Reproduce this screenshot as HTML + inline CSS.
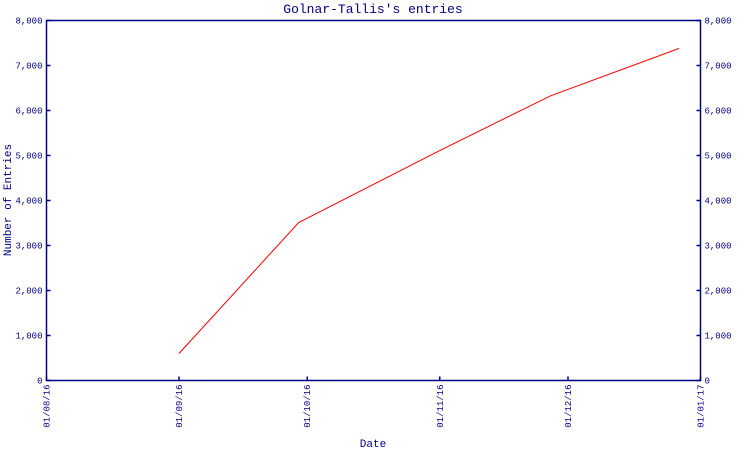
<!DOCTYPE html>
<html><head><meta charset="utf-8"><style>
body{margin:0;background:#fff}
svg text{font-family:"Liberation Mono","DejaVu Sans Mono",monospace;fill:#000080}
</style></head><body>
<svg width="750" height="450" xmlns="http://www.w3.org/2000/svg">
<text x="373" y="13" text-anchor="middle" font-size="13">Golnar-Tallis's entries</text>
<text transform="translate(11,200) rotate(-90)" text-anchor="middle" font-size="11">Number of Entries</text>
<text x="373" y="447" text-anchor="middle" font-size="11">Date</text>
<g id="axes"></g>
<polyline id="line" fill="none" stroke="#ff0000" stroke-width="1"/>
</svg>
<script>
const dates = ["2016-09-01","2016-09-29","2016-11-01","2016-11-27","2016-12-27"];
const values = [600, 3510, 5110, 6330, 7380];
const yTicks = [0,1000,2000,3000,4000,5000,6000,7000,8000];
const xTickLabels = ["01/08/16","01/09/16","01/10/16","01/11/16","01/12/16","01/01/17"];
const xTickDates = ["2016-08-01","2016-09-01","2016-10-01","2016-11-01","2016-12-01","2017-01-01"];

const L=46.5,R=700.5,T=20.5,B=380.5;
const t0=Date.parse("2016-08-01"), t1=Date.parse("2017-01-01");
const xs=d=>L+(Date.parse(d)-t0)/(t1-t0)*(R-L);
const ys=v=>B-v/8000*(B-T);
const NS="http://www.w3.org/2000/svg";
const g=document.getElementById('axes');
function mk(tag,attrs,parent){const e=document.createElementNS(NS,tag);for(const k in attrs)e.setAttribute(k,attrs[k]);(parent||g).appendChild(e);return e;}
const frame=mk('path',{d:`M${L},${B}V${T}H${R}V${B}Z`,fill:'none',stroke:'#000080','stroke-width':1.5});


const fmt=v=>v.toLocaleString('en-US');
yTicks.forEach(v=>{
  const y=ys(v);
  const tk=mk('path',{d:`M${L},${y}h4M${R},${y}h-4`,stroke:'#000080','stroke-width':1.5});
  
  
  const a=mk('text',{x:L-4,y:y+3,'text-anchor':'end','font-size':9});a.textContent=fmt(v);
  
  
  const b=mk('text',{x:R+4,y:y+3,'font-size':9});b.textContent=fmt(v);
  
  
});
xTickDates.forEach((d,i)=>{
  const x=xs(d);
  const tk=mk('path',{d:`M${x},${B}v-4`,stroke:'#000080','stroke-width':1.5});
  
  
  const t=mk('text',{transform:`translate(${x+3},${B+4}) rotate(-90)`,'text-anchor':'end','font-size':9});
  t.textContent=xTickLabels[i];
  
  
});
document.getElementById('line').setAttribute('points',dates.map((d,i)=>xs(d)+','+ys(values[i])).join(' '));
</script>
</body></html>
